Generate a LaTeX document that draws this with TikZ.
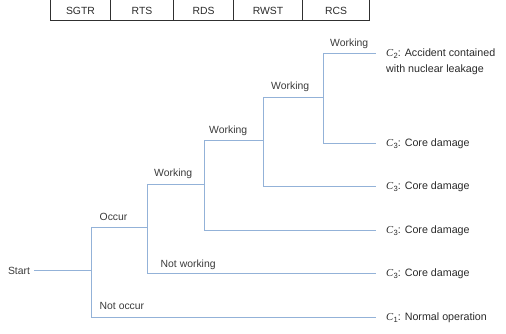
\documentclass[tikz,border=0pt]{standalone}
\usepackage{fontspec}
\setmainfont{Liberation Sans}
\newfontfamily\cfont{Liberation Serif}
\newcommand\Cvar[1]{{\cfont\itshape C}\kern0.3pt\raisebox{-0.35ex}{\fontsize{7.6}{8}\selectfont #1}}
\definecolor{lineblue}{HTML}{93B2D8}
\definecolor{labelgray}{HTML}{3A3A3A}
\definecolor{textgray}{HTML}{2A2A2A}
\definecolor{gridgray}{HTML}{303030}
\begin{document}
\begin{tikzpicture}[x=1pt,y=-1pt,
  br/.style={draw=lineblue, line width=1pt},
  endbr/.style={br, shorten >=10pt},
  lbl/.style={font=\fontsize{10.4}{12}\selectfont, text=labelgray, inner sep=0pt, anchor=west},
  outc/.style={font=\fontsize{10.7}{13}\selectfont, text=textgray, inner sep=0pt, anchor=west},
  cell/.style={font=\fontsize{10.4}{12}\selectfont, text=textgray, inner sep=0pt},
  grid/.style={draw=gridgray, line width=0.8pt}]
\useasboundingbox (0,0) rectangle (506,333);
% table
\draw[grid] (50.5,-3) rectangle (369.5,20.5);
\foreach \x in {110.5,173.5,233.5,302.5} \draw[grid] (\x,-3) -- (\x,20.5);
\node[cell] (t1) at (80.5,10.5) {SGTR};
\node[cell] (t2) at (142,10.5) {RTS};
\node[cell] (t3) at (203.5,10.5) {RDS};
\node[cell] (t4) at (268,10.5) {RWST};
\node[cell] (t5) at (336,10.5) {RCS};
% start
\node[lbl, anchor=center] (start) at (19,270.5) {Start};
% junctions
\coordinate (j1) at (91.5,270.5);
\coordinate (j2) at (147.5,227.5);
\coordinate (j3) at (204.5,184.5);
\coordinate (j4) at (263.5,140.5);
\coordinate (j5) at (323.5,97.5);
% outcomes
\node[outc] (o1) at (386,53.5) {\Cvar{2}: Accident contained};
\node[outc] (o1b) at (386,69.5) {with nuclear leakage};
\node[outc] (o2) at (386,143.5) {\Cvar{3}: Core damage};
\node[outc] (o3) at (386,186.5) {\Cvar{3}: Core damage};
\node[outc] (o4) at (386,230.5) {\Cvar{3}: Core damage};
\node[outc] (o5) at (386,273.5) {\Cvar{3}: Core damage};
\node[outc] (o6) at (386,317.5) {\Cvar{1}: Normal operation};
% branches
\draw[br, shorten <=4pt] (start.east) -- (j1);
\draw[br] (j1) |- (j2);
\draw[endbr] (j1) |- (o6.west);
\draw[br] (j2) |- (j3);
\draw[endbr] (j2) |- (o5.west);
\draw[br] (j3) |- (j4);
\draw[endbr] (j3) |- (o4.west);
\draw[br] (j4) |- (j5);
\draw[endbr] (j4) |- (o3.west);
\draw[endbr] (j5) |- (o1.west);
\draw[endbr] (j5) |- (o2.west);
% labels
\node[lbl] (l1) at (99.5,216.7) {Occur};
\node[lbl] (l2) at (99.5,305.7) {Not occur};
\node[lbl] (l3) at (160.5,265.2) {Not working};
\node[lbl] (l4) at (154,174) {Working};
\node[lbl] (l5) at (209,131.2) {Working};
\node[lbl] (l6) at (271,87.3) {Working};
\node[lbl] (l7) at (330,43.5) {Working};
\end{tikzpicture}
\end{document}
